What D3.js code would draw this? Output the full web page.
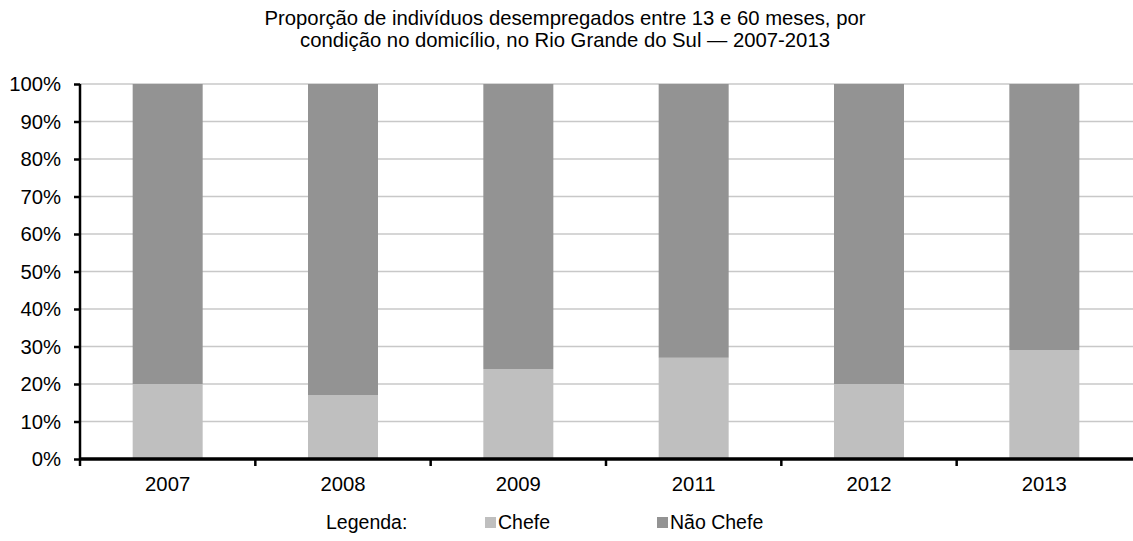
<!DOCTYPE html>
<html>
<head>
<meta charset="utf-8">
<script src="https://cdn.jsdelivr.net/npm/d3@7"></script>
<style>
  html, body { margin: 0; padding: 0; background: #fff; }
  svg { display: block; font-family: "Liberation Sans", Arial, sans-serif; }
</style>
</head>
<body>
<svg id="chart" width="1133" height="541"></svg>
<script>
// Share of unemployed (13–60 months) by household condition, Rio Grande do Sul
const years = ["2007", "2008", "2009", "2011", "2012", "2013"];
const chefe = [20, 17, 24, 27, 20, 29];
const naoChefe = [80, 83, 76, 73, 80, 71];
const seriesNames = ["Chefe", "Não Chefe"];
const seriesColors = ["#bfbfbf", "#939393"];
const yTicks = [0, 10, 20, 30, 40, 50, 60, 70, 80, 90, 100];

(function draw() {
  const svg = d3.select("#chart");
  const W = 1133;
  const FONT = "Liberation Sans, Arial, sans-serif";
  const FS = 20.3;
  const plotLeft = 80, plotTop = 84, plotBottom = 459, barW = 70;

  const x = d3.scaleBand().domain(years).range([plotLeft, W - 1]);
  const y = d3.scaleLinear().domain([0, 100]).range([plotBottom, plotTop]);

  // Title
  const title = svg.append("text")
    .attr("text-anchor", "middle")
    .attr("font-size", FS).attr("fill", "#000");
  title.append("tspan").attr("x", 565).attr("y", 25)
    .text("Proporção de indivíduos desempregados entre 13 e 60 meses, por");
  title.append("tspan").attr("x", 565).attr("y", 47)
    .text("condição no domicílio, no Rio Grande do Sul — 2007-2013");

  // Gridlines
  svg.append("g").selectAll("line")
    .data(yTicks.filter(t => t > 0))
    .join("line")
    .attr("x1", plotLeft).attr("x2", W)
    .attr("y1", d => y(d)).attr("y2", d => y(d))
    .attr("stroke", "#c8c8c8").attr("stroke-width", 1.5);

  // Stacked bars
  const rows = years.map((yr, i) => ({ year: yr, Chefe: chefe[i], "Não Chefe": naoChefe[i] }));
  const stack = d3.stack().keys(seriesNames)(rows);
  const color = d3.scaleOrdinal().domain(seriesNames).range(seriesColors);

  svg.append("g").selectAll("g")
    .data(stack)
    .join("g")
    .attr("fill", d => color(d.key))
    .selectAll("rect")
    .data(d => d)
    .join("rect")
    .attr("x", d => x(d.data.year) + (x.bandwidth() - barW) / 2)
    .attr("width", barW)
    .attr("y", d => y(d[1]))
    .attr("height", d => y(d[0]) - y(d[1]));

  // Y axis
  const yAxis = svg.append("g")
    .attr("transform", `translate(${plotLeft},0)`)
    .call(d3.axisLeft(y).tickValues(yTicks).tickFormat(d => d + "%").tickSize(6).tickPadding(13));
  yAxis.select(".domain").attr("stroke", "#000").attr("stroke-width", 2.5)
    .attr("d", `M0,${y(100)}V${plotBottom}`);
  yAxis.selectAll(".tick line").attr("stroke", "#000").attr("stroke-width", 2.5);
  yAxis.selectAll(".tick text").attr("font-size", FS).attr("fill", "#000")
    .attr("font-family", FONT);

  // X axis with ticks at category boundaries
  const xAxisG = svg.append("g").attr("transform", `translate(0,${plotBottom})`);
  xAxisG.append("line")
    .attr("x1", plotLeft - 1).attr("x2", W)
    .attr("y1", 0).attr("y2", 0)
    .attr("stroke", "#000").attr("stroke-width", 3.5);
  xAxisG.selectAll("line.tk")
    .data(years)
    .join("line").attr("class", "tk")
    .attr("x1", d => x(d)).attr("x2", d => x(d))
    .attr("y1", 0).attr("y2", 7)
    .attr("stroke", "#000").attr("stroke-width", 2.5);
  xAxisG.selectAll("text")
    .data(years)
    .join("text")
    .attr("x", d => x(d) + x.bandwidth() / 2)
    .attr("y", 32)
    .attr("text-anchor", "middle")
    .attr("font-size", FS).attr("fill", "#000")
    .text(d => d);

  // Legend
  const legend = svg.append("g").attr("font-size", 19.5);
  legend.append("text").attr("x", 326).attr("y", 529).text("Legenda:");
  const legendX = [485, 657];
  seriesNames.forEach((name, i) => {
    legend.append("rect").attr("x", legendX[i]).attr("y", 517).attr("width", 11).attr("height", 11)
      .attr("fill", seriesColors[i]);
    legend.append("text").attr("x", legendX[i] + 13).attr("y", 529).text(name);
  });
})();
</script>
</body>
</html>
